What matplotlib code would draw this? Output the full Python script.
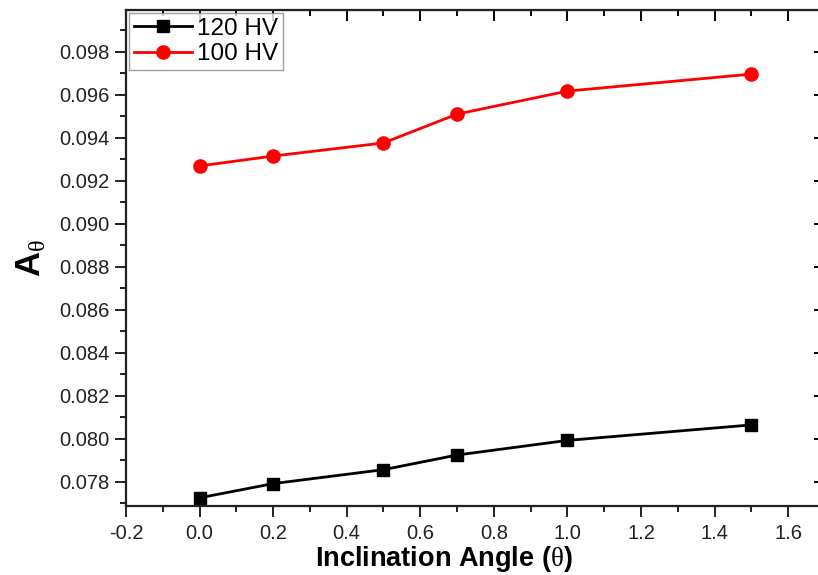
import matplotlib
matplotlib.use("Agg")
import matplotlib.pyplot as plt
from matplotlib.ticker import MultipleLocator, FormatStrFormatter

angles = [0.0, 0.2, 0.5, 0.7, 1.0, 1.5]
hv120 = [0.07726, 0.07792, 0.07857, 0.07925, 0.07993, 0.08065]
hv100 = [0.09269, 0.09315, 0.09376, 0.09510, 0.09617, 0.09696]

plt.rcParams['font.family'] = ['Liberation Sans', 'DejaVu Sans']
plt.rcParams['mathtext.fontset'] = 'custom'
plt.rcParams['mathtext.rm'] = 'Liberation Serif'
plt.rcParams['mathtext.bf'] = 'Liberation Sans:bold'
plt.rcParams['mathtext.it'] = 'Liberation Serif:italic'

fig = plt.figure(figsize=(8.18, 5.75), dpi=100)
ax = fig.add_axes([0.154, 0.12, 0.8545, 0.8626])

ax.plot(angles, hv120, color='black', lw=2, marker='s', ms=9, label='120 HV')
ax.plot(angles, hv100, color='#ff0000', lw=2, marker='o', ms=9.5, label='100 HV')

ax.set_xlim(-0.2, 1.7)
ax.set_ylim(0.07688, 0.09994)
ax.xaxis.set_major_locator(MultipleLocator(0.2))
ax.xaxis.set_minor_locator(MultipleLocator(0.1))
ax.yaxis.set_major_locator(MultipleLocator(0.002))
ax.yaxis.set_minor_locator(MultipleLocator(0.001))
ax.xaxis.set_major_formatter(FormatStrFormatter('%.1f'))
ax.yaxis.set_major_formatter(FormatStrFormatter('%.3f'))

for s in ax.spines.values():
    s.set_linewidth(1.6)
    s.set_color('#222222')
ax.tick_params(which='both', direction='out', labelsize=14.5, width=1.4, colors='#222222')
ax.tick_params(which='major', length=8, pad=4)
ax.tick_params(which='minor', length=4)
ax.tick_params(axis='x', pad=5)

# inward ticks on top and right
top = ax.secondary_xaxis('top')
top.xaxis.set_major_locator(MultipleLocator(0.2))
top.xaxis.set_minor_locator(MultipleLocator(0.1))
top.tick_params(which='both', direction='in', labeltop=False, width=1.4)
top.tick_params(which='major', length=8)
top.tick_params(which='minor', length=4)
right = ax.secondary_yaxis('right')
right.yaxis.set_major_locator(MultipleLocator(0.002))
right.yaxis.set_minor_locator(MultipleLocator(0.001))
right.tick_params(which='both', direction='in', labelright=False, width=1.4)
right.tick_params(which='major', length=8)
right.tick_params(which='minor', length=4)

ax.set_xlabel(r'Inclination Angle ($\mathrm{\theta}$)', fontsize=19.5, fontweight='bold', labelpad=2)
ax.xaxis.set_label_coords(0.455, -0.076)
ax.set_ylabel(r'$\mathbf{A}_{\mathrm{\theta}}$', fontsize=25, labelpad=8)

leg = ax.legend(loc='upper left', fontsize=17.5, frameon=True, fancybox=False,
                borderpad=0.2, handlelength=2.4, handletextpad=0.2,
                labelspacing=0.15, borderaxespad=0.12)
leg.get_frame().set_edgecolor('#888888')
leg.get_frame().set_linewidth(1.0)

fig.savefig('out.png', dpi=100)
